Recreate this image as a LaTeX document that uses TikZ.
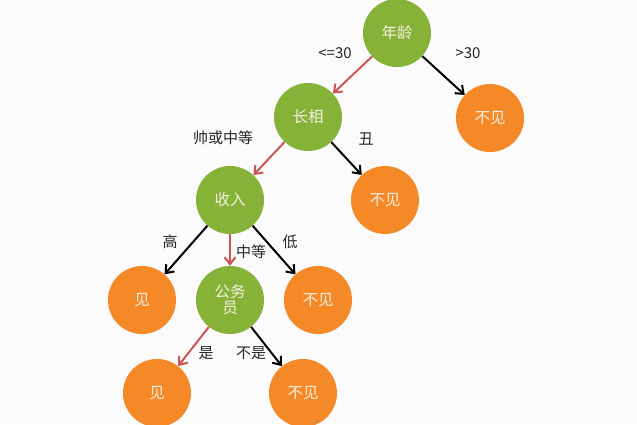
\documentclass[tikz,border=0pt]{standalone}
\usepackage{fontspec}
\newfontfamily\cjk{Noto Sans CJK SC}
\usetikzlibrary{arrows.meta}
\definecolor{gfill}{RGB}{134,178,56}
\definecolor{ofill}{RGB}{245,137,40}
\definecolor{redline}{RGB}{205,85,85}
\definecolor{bg}{RGB}{251,251,251}
\definecolor{ntext}{RGB}{245,240,225}
\begin{document}
\begin{tikzpicture}[x=1pt,y=-1pt,
  gnode/.style={circle,minimum size=68pt,inner sep=0pt,fill=gfill,
    text=ntext,font=\cjk\fontsize{15.5}{17}\selectfont,align=center},
  onode/.style={circle,minimum size=68pt,inner sep=0pt,fill=ofill,
    text=ntext,font=\cjk\fontsize{15.5}{17}\selectfont,align=center},
  blk/.style={line width=2pt,black,-{Straight Barb[length=7pt,width=11pt]}},
  rd/.style={line width=2pt,redline,-{Straight Barb[length=7pt,width=11pt]}},
  lbl/.style={font=\cjk\fontsize{15}{17}\selectfont,text=black!85,inner sep=0pt}]
\fill[bg] (0,0) rectangle (637,424);
\useasboundingbox (0,0) rectangle (637,424);
\node[gnode] (age) at (397,33) {年龄};
\node[onode] (n1) at (490,118) {不见};
\node[gnode] (look) at (308,117) {长相};
\node[onode] (n2) at (385,200) {不见};
\node[gnode] (inc) at (230,200) {收入};
\node[onode] (y1) at (142,300) {见};
\node[gnode] (civ) at (230,300) {公务\\[-1pt]员};
\node[onode] (n3) at (318,300) {不见};
\node[onode] (y2) at (157,393) {见};
\node[onode] (n4) at (303,393) {不见};
\draw[rd] (age) -- (look);
\draw[blk] (age) -- (n1);
\draw[rd] (look) -- (inc);
\draw[blk] (look) -- (n2);
\draw[blk] (inc) -- (y1);
\draw[rd] (inc) -- (civ);
\draw[blk] (inc) -- (n3);
\draw[rd] (civ) -- (y2);
\draw[blk] (civ) -- (n4);
\node[lbl] (l1) at (335,53) {<=30};
\node[lbl] (l2) at (468,53) {>30};
\node[lbl] (l3) at (223,138) {帅或中等};
\node[lbl] (l4) at (366,139) {丑};
\node[lbl] (l5) at (170,242) {高};
\node[lbl] (l6) at (251,252) {中等};
\node[lbl] (l7) at (290,242) {低};
\node[lbl] (l8) at (206,353) {是};
\node[lbl] (l9) at (251,353) {不是};
\end{tikzpicture}
\end{document}
